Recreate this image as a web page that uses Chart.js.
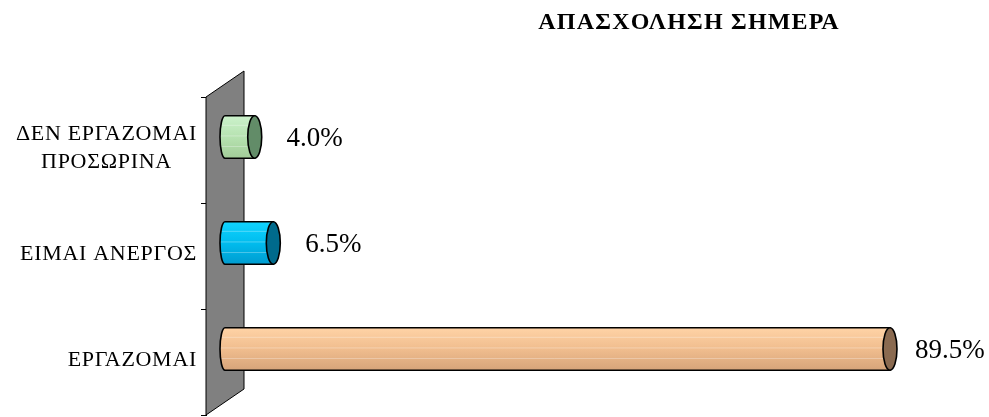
<!DOCTYPE html>
<html>
<head>
<meta charset="utf-8">
<script src="https://cdn.jsdelivr.net/npm/chart.js@4"></script>
<style>
  html, body { margin: 0; padding: 0; background: #fff; }
  #wrap { width: 989px; height: 417px; position: relative; }
</style>
</head>
<body>
<div id="wrap"><canvas id="c"></canvas></div>
<script>
const title    = 'ΑΠΑΣΧΟΛΗΣΗ ΣΗΜΕΡΑ';
const cats     = [['ΔΕΝ ΕΡΓΑΖΟΜΑΙ', 'ΠΡΟΣΩΡΙΝΑ'], ['ΕΙΜΑΙ ΑΝΕΡΓΟΣ'], ['ΕΡΓΑΖΟΜΑΙ']];
const values   = [4.0, 6.5, 89.5];
const bodyCols = [['#ccf2cc', '#b6e2b0', '#a2cc98'], ['#10d4ff', '#00bcee', '#009cd0'], ['#ffd3a6', '#f0bd8e', '#d6a47a']];
const capCols  = ['#628c68', '#006a8c', '#8a6a50'];

const DX = 38, DY = -26;          // depth of the back wall
const HX = DX / 2, HY = DY / 2;   // bars sit at mid depth
const FONT = "'Liberation Serif', 'Times New Roman', serif";

function bodyPath(ctx, x0, x1, yc, r) {
  ctx.beginPath();
  ctx.moveTo(x1, yc - r);
  ctx.lineTo(x0, yc - r);
  ctx.ellipse(x0, yc, 5, r, 0, -Math.PI / 2, Math.PI / 2, true);
  ctx.lineTo(x1, yc + r);
  ctx.closePath();
}

function drawCyl(ctx, x0, x1, yc, r, cols, cap) {
  const g = ctx.createLinearGradient(0, yc - r, 0, yc + r);
  g.addColorStop(0, cols[0]); g.addColorStop(0.5, cols[1]); g.addColorStop(1, cols[2]);
  bodyPath(ctx, x0, x1, yc, r);
  ctx.fillStyle = g; ctx.fill();
  // faint banding
  ctx.save(); ctx.clip();
  ctx.strokeStyle = 'rgba(255,255,255,0.3)'; ctx.lineWidth = 1;
  [-0.55, -0.05, 0.45].forEach(f => { ctx.beginPath(); ctx.moveTo(x0 - 6, yc + f * r); ctx.lineTo(x1, yc + f * r); ctx.stroke(); });
  ctx.restore();
  bodyPath(ctx, x0, x1, yc, r);
  ctx.strokeStyle = '#000'; ctx.lineWidth = 1.6; ctx.stroke();
  ctx.beginPath();
  ctx.ellipse(x1, yc, 7, r, 0, 0, Math.PI * 2);
  ctx.fillStyle = cap; ctx.fill();
  ctx.stroke();
}

const deco = {
  id: 'deco',
  beforeDatasetsDraw(chart) {
    const { ctx, chartArea: a } = chart;
    ctx.save();
    ctx.beginPath();
    ctx.moveTo(a.left, a.top);
    ctx.lineTo(a.left + DX, a.top + DY);
    ctx.lineTo(a.left + DX, a.bottom + DY);
    ctx.lineTo(a.left, a.bottom);
    ctx.closePath();
    ctx.fillStyle = '#808080'; ctx.fill();
    ctx.strokeStyle = '#000'; ctx.lineWidth = 1; ctx.stroke();
    ctx.restore();
  },
  afterDatasetsDraw(chart) {
    const { ctx } = chart;
    const meta = chart.getDatasetMeta(0);
    ctx.save();
    meta.data.forEach((bar, i) => {
      const r = bar.height / 2;
      const yc = bar.y + HY;
      drawCyl(ctx, bar.base + HX, bar.x + HX, yc, r, bodyCols[i], capCols[i]);
      ctx.fillStyle = '#000';
      ctx.font = '27px ' + FONT;
      ctx.textAlign = 'center'; ctx.textBaseline = 'middle';
      ctx.fillText(values[i].toFixed(1) + '%', bar.x + HX + 60, yc + 2);
    });
    ctx.restore();
  },
  afterDraw(chart) {
    const { ctx } = chart;
    const y = chart.scales.y;
    ctx.save();
    ctx.fillStyle = '#000';
    ctx.textBaseline = 'middle'; ctx.textAlign = 'center';
    ctx.font = '22px ' + FONT;
    ctx.letterSpacing = '0.7px';
    const lh = 28;
    cats.forEach((lines, i) => {
      const w = Math.max(...lines.map(l => ctx.measureText(l).width));
      const cx = 197 - w / 2;
      const yc = y.getPixelForTick(i) - 2;
      lines.forEach((l, j) => ctx.fillText(l, cx, yc + (j - (lines.length - 1) / 2) * lh));
    });
    ctx.font = 'bold 24px ' + FONT;
    ctx.letterSpacing = '1.2px';
    ctx.fillText(title, 689, 23);
    ctx.restore();
  }
};

new Chart(document.getElementById('c'), {
  type: 'bar',
  data: {
    labels: cats.map(l => l.join(' ')),
    datasets: [{ data: values, backgroundColor: 'rgba(0,0,0,0)', borderWidth: 0,
                 barPercentage: 0.4, categoryPercentage: 1 }]
  },
  options: {
    indexAxis: 'y',
    responsive: true, maintainAspectRatio: false, animation: false,
    layout: { padding: { left: 0, right: 40, top: 97, bottom: 2 } },
    plugins: { legend: { display: false }, tooltip: { enabled: false } },
    scales: {
      x: { display: false, min: 0, max: 100 },
      y: {
        afterFit: s => { s.width = 206; },
        ticks: { display: false },
        grid: { drawOnChartArea: false, tickLength: 5, color: '#000', offset: true },
        border: { display: true, color: '#000' }
      }
    }
  },
  plugins: [deco]
});
</script>
</body>
</html>
